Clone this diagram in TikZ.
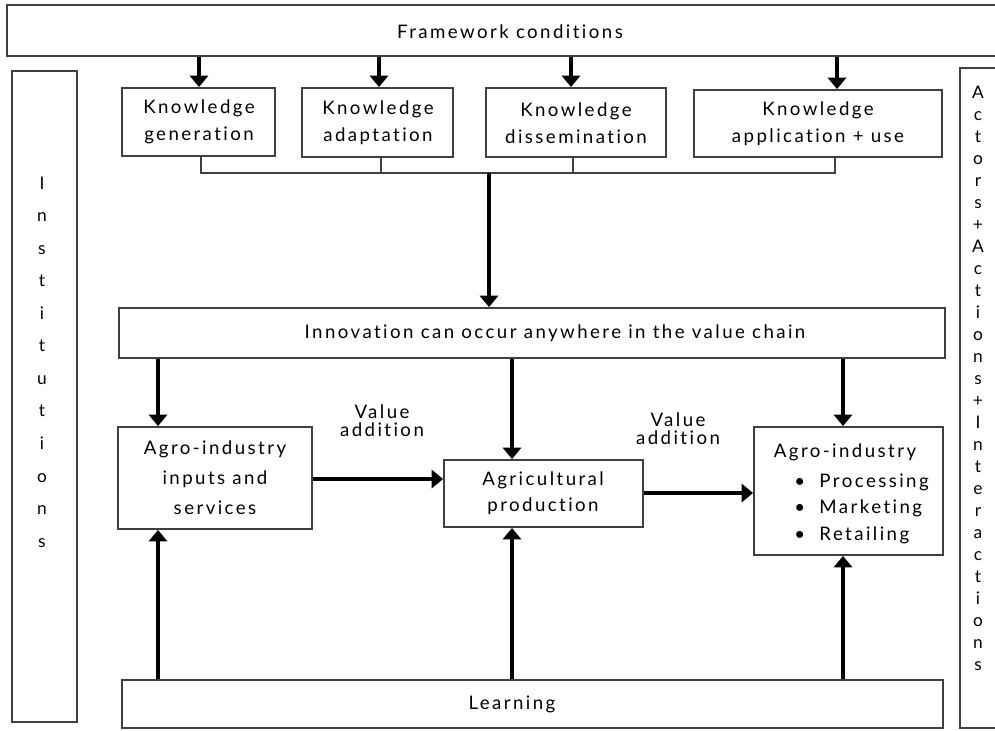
\documentclass[tikz,border=0pt]{standalone}
\usepackage{fontspec}
\setmainfont{Lato}[LetterSpace=13,Ligatures=NoCommon]
\usetikzlibrary{arrows.meta,fit}
\begin{document}
\begin{tikzpicture}[x=0.75pt,y=-0.75pt,
  box/.style={draw=black!75, line width=1.4pt, fill=white, inner sep=0pt},
  arr/.style={line width=2.7pt, -{Triangle[width=13.5pt,length=8.5pt]}},
  thinline/.style={line width=1.3pt, draw=black!75},
  lbl/.style={inner sep=0pt, align=center, font=\fontsize{14}{20}\selectfont},
  vert/.style={inner sep=0pt, align=center}]
\clip (0,0) rectangle (995,731);
\fill[white] (0,0) rectangle (995,731);

% frame boxes
\node[box, fit={(7,5) (1010,56)}] (fw) {};
\node[lbl] (fwt) at (510,32) {Framework conditions};
\node[box, fit={(12,71) (77,722)}] (inst) {};
\node[vert, font=\fontsize{13}{24.4}\selectfont] (instt) at (42,362) {I\\n\\s\\t\\i\\t\\u\\t\\i\\o\\n\\s};
\node[box, fit={(960,68) (1010,728)}] (act) {};
\node[vert, font=\fontsize{13}{16.5}\selectfont] (actt) at (978,378) {A\\c\\t\\o\\r\\s\\+\\A\\c\\t\\i\\o\\n\\s\\+\\I\\n\\t\\e\\r\\a\\c\\t\\i\\o\\n\\s};

% knowledge boxes
\node[box, fit={(122,88) (275,156)}] (kg) {};
\node[lbl] (kgt) at (199,122) {Knowledge\\generation};
\node[box, fit={(302,88) (453,157)}] (ka) {};
\node[lbl] (kat) at (378,123) {Knowledge\\adaptation};
\node[box, fit={(486,88) (666,157)}] (kd) {};
\node[lbl] (kdt) at (576,123) {Knowledge\\dissemination};
\node[box, fit={(694,90) (942,157)}] (ku) {};
\node[lbl] (kut) at (818,124) {Knowledge\\application + use};

% innovation
\node[box, fit={(119,308) (945,358)}] (inn) {};
\node[lbl] (innt) at (555,333) {Innovation can occur anywhere in the value chain};

% value chain boxes
\node[box, fit={(118,427) (312,529)}] (ais) {};
\node[lbl, font=\fontsize{14}{22.5}\selectfont] (aist) at (215,478) {Agro-industry\\inputs and\\services};
\node[box, fit={(444,460) (643,527)}] (ap) {};
\node[lbl, font=\fontsize{14}{19.5}\selectfont] (apt) at (543,493) {Agricultural\\production};
\node[box, fit={(754,427) (943,555)}] (ai) {};
\node[lbl] (ait) at (845,452) {Agro-industry};
\node[lbl, anchor=west] (b1) at (794,482) {\textbullet\ \ Processing};
\node[lbl, anchor=west] (b2) at (794,508) {\textbullet\ \ Marketing};
\node[lbl, anchor=west] (b3) at (794,535) {\textbullet\ \ Retailing};

\node[lbl, font=\fontsize{14}{13.5}\selectfont] (va1) at (382,421) {Value\\addition};
\node[lbl, font=\fontsize{14}{13.5}\selectfont] (va2) at (678,429) {Value\\addition};

% learning
\node[box, fit={(122,680) (943,728)}] (learn) {};
\node[lbl] (learnt) at (512,704) {Learning};

% coordinates for connectors
\coordinate (c1) at (199,0);
\coordinate (c2) at (379,0);
\coordinate (c3) at (571,0);
\coordinate (c4) at (837,0);
\coordinate (t1) at (201,0);
\coordinate (t2) at (381,0);
\coordinate (t3) at (573,0);
\coordinate (t4) at (835,0);
\coordinate (bar) at (0,173);
\coordinate (m) at (489,0);
\coordinate (v1) at (158,0);
\coordinate (v2) at (512,0);
\coordinate (v3) at (843,0);
\coordinate (h1) at (0,479);
\coordinate (h2) at (0,493);

% framework -> knowledge
\draw[arr] (fw.south -| c1) -- (kg.north -| c1);
\draw[arr] (fw.south -| c2) -- (ka.north -| c2);
\draw[arr] (fw.south -| c3) -- (kd.north -| c3);
\draw[arr] (fw.south -| c4) -- (ku.north -| c4);

% bracket
\draw[thinline] (kg.south -| t1) -- (bar -| t1) -- (bar -| t4) -- (ku.south -| t4);
\draw[thinline] (ka.south -| t2) -- (bar -| t2);
\draw[thinline] (kd.south -| t3) -- (bar -| t3);
\draw[arr] (bar -| m) -- (inn.north -| m);

% innovation -> chain
\draw[arr] (inn.south -| v1) -- (ais.north -| v1);
\draw[arr] (inn.south -| v2) -- (ap.north -| v2);
\draw[arr] (inn.south -| v3) -- (ai.north -| v3);

% value addition
\draw[arr] (ais.east |- h1) -- (ap.west |- h1);
\draw[arr] (ap.east |- h2) -- (ai.west |- h2);

% learning -> chain
\draw[arr] (learn.north -| v1) -- (ais.south -| v1);
\draw[arr] (learn.north -| v2) -- (ap.south -| v2);
\draw[arr] (learn.north -| v3) -- (ai.south -| v3);
\end{tikzpicture}
\end{document}
